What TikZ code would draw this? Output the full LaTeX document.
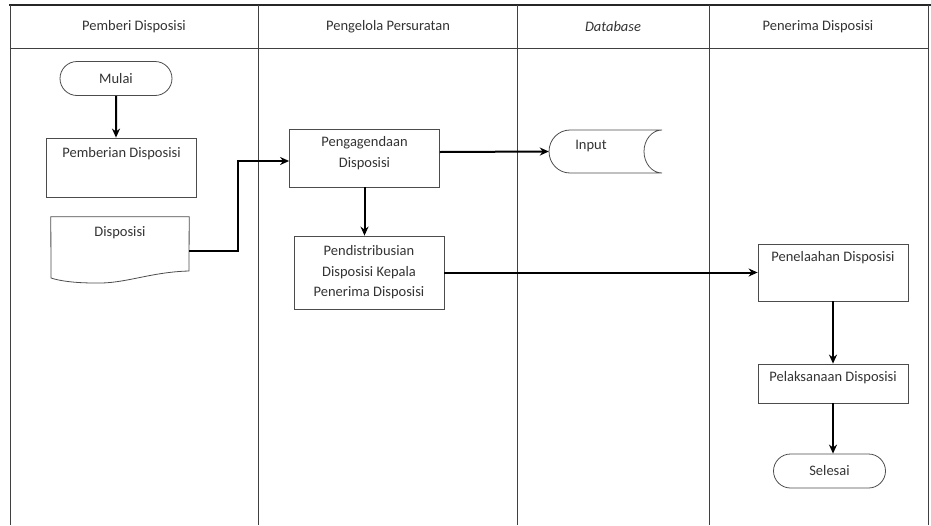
\documentclass[tikz,border=0pt]{standalone}
\usepackage{fontspec}
\setmainfont{Carlito}
\usetikzlibrary{arrows.meta,shapes.misc,positioning}

\begin{document}
\begin{tikzpicture}[x=1pt, y=-1pt, >=Stealth,
    font=\fontsize{14.5}{20.5}\selectfont, text=black!80,
    lane/.style={draw=black!75, line width=0.7pt},
    box/.style={draw=black!70, line width=0.8pt, minimum width=150pt, inner sep=0pt, align=center},
    term/.style={draw=black!70, line width=0.8pt, rounded rectangle, minimum width=112pt, minimum height=34pt, inner sep=0pt},
    flow/.style={->, line width=2pt, >={Stealth[length=9pt,width=8pt]}},
    toplab/.style={anchor=north, inner sep=0pt, align=center}]

    \useasboundingbox (0,0) rectangle (931,525);

    % Swimlanes
    \draw[line width=2.5pt, black!85] (9,5) -- (931,5);
    \draw[lane] (10,5) -- (10,525);
    \draw[lane] (258,5) -- (258,525);
    \draw[lane] (517,5) -- (517,525);
    \draw[lane] (709,5) -- (709,525);
    \draw[lane] (928,5) -- (928,525);
    \draw[lane] (10,48) -- (928,48);

    \node (h1) at (134,27) {Pemberi Disposisi};
    \node (h2) at (388,27) {Pengelola Persuratan};
    \node (h3) at (613,27) {\itshape Database};
    \node (h4) at (818,27) {Penerima Disposisi};

    % Pemberi Disposisi
    \node[term] (mulai) at (116,78.5) {Mulai};
    \node[box, minimum height=59pt, label={[toplab, yshift=-10pt]north:Pemberian Disposisi}] (beri) at (121.5,167.5) {};
    \node[minimum width=138pt, minimum height=54pt, inner sep=0pt] (dispo) at (120,244) {};
    \draw[draw=black!70, line width=0.8pt] (dispo.north west) -- (dispo.north east) -- (189,271)
        .. controls (150,272) and (125,284) .. (95,283)
        .. controls (75,283) and (60,281) .. (51,278) -- cycle;
    \node[toplab] (dispotxt) at ([yshift=-10pt]dispo.north) {Disposisi};

    % Pengelola Persuratan
    \node[box, minimum height=58pt, label={[toplab, yshift=-8pt]north:Pengagendaan\\Disposisi}] (agenda) at (364.5,158) {};
    \node[box, minimum height=73pt] (distribusi) at (369,272.5) {Pendistribusian\\Disposisi Kepala\\Penerima Disposisi};

    % Database
    \node[minimum width=113pt, minimum height=43pt, inner sep=0pt] (input) at (605.5,151.5) {};
    \draw[draw=black!70, line width=0.8pt] (570,130) -- (662,130)
        arc[start angle=90, end angle=270, x radius=18pt, y radius=21.5pt]
        -- (570,173)
        arc[start angle=270, end angle=90, x radius=21pt, y radius=21.5pt] -- cycle;
    \node[inner sep=0pt] (inputtxt) at (591,146) {Input};

    % Penerima Disposisi
    \node[box, minimum height=57pt, label={[toplab, yshift=-8pt]north:Penelaahan Disposisi}] (telaah) at (833,272.5) {};
    \node[box, minimum height=39pt, label={[toplab, yshift=-8pt]north:Pelaksanaan Disposisi}] (laksana) at (833,383.5) {};
    \node[term] (selesai) at (829.5,471) {Selesai};

    % Alur
    \draw[flow] (mulai) -- (mulai |- beri.north);
    \draw[flow] (dispo.east |- 0,251) -| (238,161) -- (agenda.west |- 0,161);
    \draw[flow] (agenda.east |- 0,152) -- (input.west);
    \draw[flow] (agenda) -- (agenda |- distribusi.north);
    \draw[flow] (distribusi) -- (telaah);
    \draw[flow] (telaah) -- (telaah |- laksana.north);
    \draw[flow] (laksana) -- (laksana |- selesai.north);

\end{tikzpicture}
\end{document}
